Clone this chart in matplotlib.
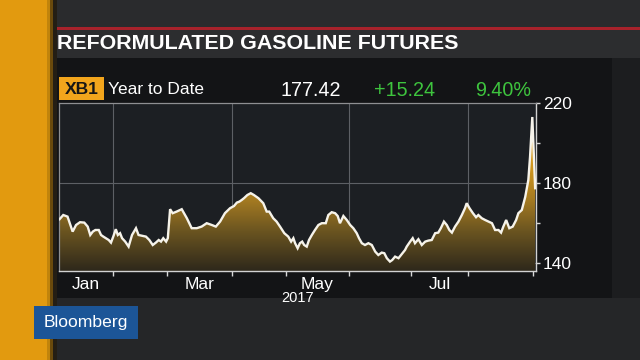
import numpy as np
import matplotlib
matplotlib.use("Agg")
import matplotlib.pyplot as plt
from matplotlib.colors import LinearSegmentedColormap
from matplotlib.patches import Rectangle

# ---------------- data ----------------
day = [1.2, 2.5, 4.0, 5.2, 5.8, 7.0, 8.4, 9.9, 11.1, 12.0, 12.9, 13.8, 15.0, 15.8,
       16.6, 17.5, 18.5, 19.3, 20.1, 21.0, 21.7, 22.5, 23.2, 24.3, 25.5, 26.7,
       28.1, 29.0, 30.7, 31.6, 32.8, 34.0, 35.1, 36.1, 36.9, 37.7, 38.7, 39.3,
       40.1, 41.0, 42.4, 44.2, 46.0, 47.7, 49.5, 51.2, 53.0, 54.8, 56.2, 57.7,
       59.4, 61.2, 62.6, 63.6, 64.5, 65.3, 66.1, 67.3, 68.5, 69.6, 71.2, 72.9,
       74.1, 75.0, 76.4, 77.6, 78.8, 80.3, 81.7, 82.7, 83.5, 84.1, 85.0, 85.8,
       86.6, 87.3, 88.2, 89.0, 90.0, 91.1, 92.3, 93.5, 94.9, 95.8, 97.0, 98.2,
       99.1, 99.9, 101.1, 102.3, 103.5, 104.6, 105.8, 106.6, 107.6, 108.7, 109.9,
       111.1, 112.3, 113.4, 114.6, 115.5, 116.4, 117.5, 118.3, 119.3, 120.5,
       121.9, 122.8, 123.4, 124.6, 125.5, 126.3, 127.5, 128.7, 129.9, 131.0,
       132.2, 133.4, 134.5, 135.4, 136.5, 137.5, 138.4, 139.3, 140.4, 141.6,
       142.8, 143.9, 144.5, 145.5, 146.7, 147.8, 148.6, 149.8, 151.0, 152.2,
       153.4, 154.5, 155.7, 156.6, 157.4, 158.4, 159.5, 160.7, 161.9, 162.7,
       163.9, 165.1, 166.2, 166.8, 167.6, 168.6]
price = [161.9, 164.0, 163.2, 158.2, 155.7, 159.0, 160.4, 160.2, 158.2, 154.0, 155.7,
         156.5, 156.5, 154.0, 153.2, 152.4, 151.5, 150.2, 153.2, 156.9, 154.0, 154.9,
         152.4, 150.7, 148.2, 154.0, 157.4, 154.0, 153.5, 153.2, 151.5, 149.0, 150.2,
         151.5, 150.7, 152.4, 150.7, 152.4, 166.9, 164.9, 165.7, 166.9, 162.4, 157.4,
         157.4, 158.2, 159.9, 159.0, 158.2, 160.7, 164.9, 167.4, 168.5, 170.2, 170.7,
         171.5, 172.4, 174.0, 174.9, 174.0, 172.4, 169.9, 165.7, 165.7, 162.4, 160.7,
         158.2, 154.9, 153.2, 150.7, 152.4, 149.9, 147.4, 149.9, 150.7, 149.0, 148.2,
         151.5, 154.0, 156.5, 159.0, 159.9, 159.9, 164.0, 165.4, 164.9, 163.5, 159.9,
         163.5, 161.5, 159.0, 157.4, 154.9, 152.4, 149.9, 149.0, 149.9, 149.0, 145.7,
         144.0, 145.2, 144.9, 142.4, 140.7, 141.5, 143.2, 142.4, 144.9, 146.5, 148.2,
         150.7, 152.4, 149.9, 151.9, 149.0, 150.7, 151.2, 151.5, 154.9, 155.2, 157.4,
         160.7, 159.0, 156.5, 155.2, 158.2, 160.7, 164.0, 167.4, 169.9, 167.4, 164.9,
         162.9, 164.0, 162.4, 161.5, 160.7, 159.9, 156.5, 156.5, 155.2, 158.2, 161.5,
         157.4, 158.2, 161.5, 164.9, 166.5, 173.0, 181.5, 193.0, 213.0, 177.4]

month_start = [1, 20, 39, 62, 81, 103, 125, 145, 168]   # trading-day index of month starts
month_names = ["Jan", "Feb", "Mar", "Apr", "May", "Jun", "Jul", "Aug"]
labelled_months = ["Jan", "Mar", "May", "Jul"]
grid_months = ["Feb", "Apr", "Jun", "Aug"]
y_major = [140, 180, 220]
y_minor = [160, 200]
year_label = "2017"
title = "REFORMULATED GASOLINE FUTURES"
ticker = "XB1"
period = "Year to Date"
last_value = "177.42"
change = "+15.24"
pct_change = "9.40%"
brand = "Bloomberg"

# ---------------- figure ----------------
W, H = 640, 360
fig = plt.figure(figsize=(W / 100, H / 100), dpi=100)
fig.patch.set_facecolor("#242527")
FONT = ["Liberation Sans", "DejaVu Sans"]


def rect(x0, y0, x1, y1, color, z=-10):
    fig.patches.append(Rectangle((x0 / W, 1 - y1 / H), (x1 - x0) / W, (y1 - y0) / H,
                                 transform=fig.transFigure, facecolor=color,
                                 edgecolor="none", zorder=z))


def ftext(x, y, s, **kw):
    kw.setdefault("family", FONT)
    fig.text(x / W, 1 - y / H, s, **kw)


# background pieces
rect(50, 0, 640, 27, "#2a2b2d")
rect(50, 298, 640, 360, "#252628")
rect(612, 58, 640, 298, "#1c1d1f")
rect(55, 58, 612, 298, "#131416")
rect(52, 29.5, 640, 58, "#2c2d2f")
rect(52, 26.5, 640, 29.5, "#a8222b")
rect(0, 0, 47, 360, "#e29a0f")
rect(47, 0, 50, 360, "#c0840c")
rect(50, 0, 53, 360, "#6a4a0c")
rect(53, 0, 57, 360, "#241e14")
rect(34, 306, 138, 339, "#1c5597", z=-5)
rect(59, 77, 104, 100, "#f2a51c", z=-5)

ftext(57, 43.5, title, color="white", fontsize=15.4, fontweight="bold",
      va="center", ha="left")
ftext(81.5, 89, ticker, color="#161616", fontsize=12.6, fontweight="bold",
      va="center", ha="center")
ftext(108, 90, period, color="white", fontsize=12.5, va="center", ha="left")
ftext(341, 90, last_value, color="white", fontsize=14.2, va="center", ha="right")
ftext(435, 90, change, color="#3ec43e", fontsize=14.2, va="center", ha="right")
ftext(531, 90, pct_change, color="#3ec43e", fontsize=14.2, va="center", ha="right")
ftext(86, 323, brand, color="white", fontsize=12.6, va="center", ha="center")

# ---------------- chart ----------------
L, R, T, B = 59, 536, 103, 271
ax = fig.add_axes([L / W, 1 - B / H, (R - L) / W, (B - T) / H])
ax.set_facecolor("#1c1f23")
x0, x1 = 1.0, 168.9
y0, y1 = 136.0, 220.0
ax.set_xlim(x0, x1)
ax.set_ylim(y0, y1)

cmap = LinearSegmentedColormap.from_list(
    "gold", [(0.0, "#2e281b"), (0.25, "#6a5420"), (0.45, "#a47a22"),
             (0.65, "#cf961e"), (1.0, "#f0b030")])
grad = np.linspace(0, 1, 256).reshape(-1, 1)
img = ax.imshow(grad, extent=[x0, x1, y0, 215], origin="lower", aspect="auto",
                cmap=cmap, zorder=2)
poly = ax.fill_between(day, price, y0, facecolor="none", edgecolor="none")
img.set_clip_path(poly.get_paths()[0], transform=ax.transData)
ax.plot(day, price, color="#f6f3ea", lw=1.7, zorder=4, solid_joinstyle="miter")

# grid lines
grid_pos = [month_start[month_names.index(m)] for m in grid_months]
for g in grid_pos:
    ax.axvline(g, color="#5d6065", lw=0.8, zorder=1)
for v in [140, 180]:
    ax.axhline(v, color="#5d6065", lw=0.8, zorder=1)

# y axis on right
ax.yaxis.tick_right()
ax.set_yticks(y_major)
ax.set_yticks(y_minor, minor=True)
ax.tick_params(axis="y", which="both", direction="out", length=3, width=1,
               colors="#d8d8d8", labelsize=12.5, pad=2, labelcolor="white")
for lab in ax.get_yticklabels():
    lab.set_family(FONT)

# x axis: ticks at month starts, labels at mid-month
ax.set_xticks(month_start[1:])
ax.set_xticklabels([])
label_pos = []
for m in labelled_months:
    i = month_names.index(m)
    label_pos.append((month_start[i] + month_start[i + 1]) / 2)
ax.set_xticks(label_pos, minor=True)
ax.set_xticklabels(labelled_months, minor=True, family=FONT, fontsize=12.5,
                   color="white")
ax.tick_params(axis="x", which="major", direction="out", length=3.5, width=1,
               colors="#d8d8d8")
ax.tick_params(axis="x", which="minor", length=0, pad=4.5)

for side in ["left", "top"]:
    ax.spines[side].set_color("#8e8f92")
    ax.spines[side].set_linewidth(0.9)
for side in ["right", "bottom"]:
    ax.spines[side].set_color("#d2d2d2")
    ax.spines[side].set_linewidth(1.0)

ftext((L + R) / 2, 298, year_label, color="white", fontsize=10.5,
      va="center", ha="center")

fig.savefig("out.png", dpi=100, facecolor=fig.get_facecolor())
